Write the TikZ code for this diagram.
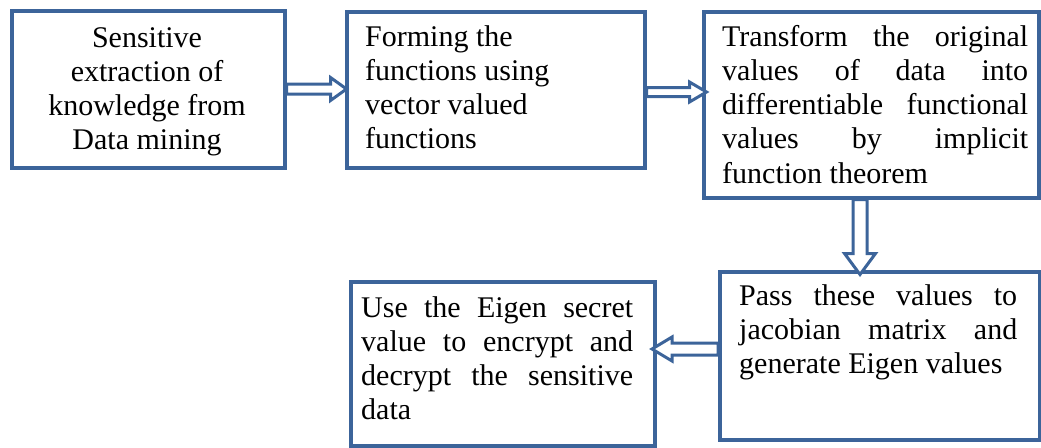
\documentclass[tikz,border=0pt]{standalone}
\usepackage{fontspec}
\setmainfont{Liberation Serif}
\definecolor{boxblue}{RGB}{60,100,154}
\newcommand\blockarrow[6]{%
  \draw[arrowline, shift={(#1)}, rotate=#2]
    (0,-#4) -- (#3-#6,-#4) -- (#3-#6,-#5) -- (#3,0) -- (#3-#6,#5) -- (#3-#6,#4) -- (0,#4) -- cycle;}
\begin{document}
\begin{tikzpicture}[x=1pt,y=-1pt,
  box/.style={draw=boxblue, line width=3.5pt, fill=white, rectangle, inner sep=0pt, anchor=north west},
  txt/.style={inner sep=0pt, anchor=base west, font=\fontsize{30}{34.3}\selectfont},
  arrowline/.style={draw=boxblue, line width=3pt, fill=white, line join=miter}]
\useasboundingbox (0,0) rectangle (1041,447);
% boxes
\node[box, minimum width=273pt, minimum height=157pt] (b1) at (10,9) {};
\node[box, minimum width=298pt, minimum height=156pt] (b2) at (345,10) {};
\node[box, minimum width=335pt, minimum height=186pt] (b3) at (702,10) {};
\node[box, minimum width=320pt, minimum height=168pt] (b4) at (718,270) {};
\node[box, minimum width=304pt, minimum height=164pt] (b5) at (349,280) {};
% arrows
\coordinate (a1) at (b1.east |- 0,89);
\coordinate (a2) at (b2.east |- 0,92);
\coordinate (a3) at (b3.south -| 860,0);
\coordinate (a4) at (b4.west |- 0,349);
\blockarrow{a1}{0}{60}{5}{11.5}{16}
\blockarrow{a2}{0}{60}{4.5}{10}{17}
\blockarrow{a3}{-90}{75}{7}{15.5}{21}
\blockarrow{a4}{180}{66}{6}{12}{20}
% texts
\node[txt, anchor=base] (t1) at (147,47) {\parbox[t]{260pt}{\centering
Sensitive\\extraction of\\knowledge from\\Data mining}};
\node[txt] (t2) at (365,46) {\parbox[t]{270pt}{\raggedright
Forming the\\functions using\\vector valued\\functions}};
\node[txt] (t3) at (722,46) {\parbox[t]{306pt}{%
\makebox[306pt][s]{Transform the original}\\
\makebox[306pt][s]{values of data into}\\
\makebox[306pt][s]{differentiable functional}\\
\makebox[306pt][s]{values by implicit}\\
function theorem}};
\node[txt] (t4) at (739,305) {\parbox[t]{278pt}{%
\makebox[278pt][s]{Pass these values to}\\
\makebox[278pt][s]{jacobian matrix and}\\
generate Eigen values}};
\node[txt] (t5) at (361,317) {\parbox[t]{272pt}{%
\makebox[272pt][s]{Use the Eigen secret}\\
\makebox[272pt][s]{value to encrypt and}\\
\makebox[272pt][s]{decrypt the sensitive}\\
data}};
\end{tikzpicture}
\end{document}
